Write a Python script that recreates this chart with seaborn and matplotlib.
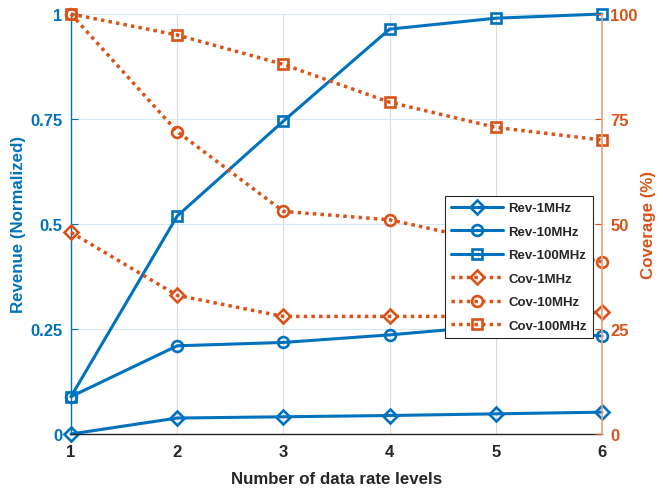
import matplotlib
matplotlib.use("Agg")
import matplotlib.pyplot as plt
import seaborn as sns
import numpy as np
import pandas as pd
from matplotlib.lines import Line2D

levels = [1, 2, 3, 4, 5, 6]

rev_1mhz = [0.0, 0.038, 0.041, 0.044, 0.048, 0.052]
rev_10mhz = [0.089, 0.21, 0.218, 0.236, 0.258, 0.233]
rev_100mhz = [0.089, 0.519, 0.745, 0.964, 0.99, 1.0]

cov_1mhz = [48, 33, 28, 28, 28, 29]
cov_10mhz = [100, 72, 53, 51, 45.5, 41]
cov_100mhz = [100, 95, 88, 79, 73, 70]

rev_names = ["Rev-1MHz", "Rev-10MHz", "Rev-100MHz"]
cov_names = ["Cov-1MHz", "Cov-10MHz", "Cov-100MHz"]
markers = ["D", "o", "s"]
marker_sizes = {"D": 6.8, "o": 7.8, "s": 7.5}

left_ticks = [0, 0.25, 0.5, 0.75, 1]
left_labels = ["0", "0.25", "0.5", "0.75", "1"]
right_ticks = [0, 25, 50, 75, 100]

BLUE = "#0072BD"
ORANGE = "#D95319"
DARK = "#262626"

sns.set_style("white")
plt.rcParams["font.family"] = ["Liberation Sans", "DejaVu Sans"]
plt.rcParams["font.weight"] = "bold"

fig = plt.figure(figsize=(6.67, 4.89), dpi=100)
ax = fig.add_axes([71 / 667, 1 - 435 / 489, (602 - 71) / 667, 420 / 489])
ax2 = ax.twinx()

rev_df = pd.DataFrame({"x": levels * 3,
                       "y": rev_1mhz + rev_10mhz + rev_100mhz,
                       "s": sum([[n] * 6 for n in rev_names], [])})
cov_df = pd.DataFrame({"x": levels * 3,
                       "y": cov_1mhz + cov_10mhz + cov_100mhz,
                       "s": sum([[n] * 6 for n in cov_names], [])})

DOTS = (0, (1, 1.2))

handles = []
for name, mk in zip(rev_names, markers):
    sub = rev_df[rev_df["s"] == name]
    style = dict(color=BLUE, lw=2.2, marker=mk, ms=marker_sizes[mk], mew=1.9,
                 mfc="none", mec=BLUE)
    sns.lineplot(data=sub, x="x", y="y", ax=ax, clip_on=False, legend=False, **style)
    handles.append(Line2D([], [], label=name, **style))
for name, mk in zip(cov_names, markers):
    sub = cov_df[cov_df["s"] == name]
    style = dict(color=ORANGE, lw=2.5, linestyle=DOTS, marker=mk,
                 ms=marker_sizes[mk], mew=1.9, mfc="none", mec=ORANGE)
    sns.lineplot(data=sub, x="x", y="y", ax=ax2, clip_on=False, legend=False, **style)
    handles.append(Line2D([], [], label=name, **style))

ax.set_xlim(1, 6)
ax.set_ylim(0, 1)
ax2.set_ylim(0, 100)
ax.set_xticks(levels)
ax.set_yticks(left_ticks)
ax.set_yticklabels(left_labels)
ax2.set_yticks(right_ticks)

# grid: vertical in gray, horizontal tinted with the left axis colour
for xv in levels:
    ax.axvline(xv, color="#dcdcdc", lw=0.8, zorder=0)
for yv in left_ticks:
    ax.axhline(yv, color="#d6e8f4", lw=0.8, zorder=0)

for sp in ["top"]:
    ax.spines[sp].set_visible(False)
    ax2.spines[sp].set_visible(False)
ax.spines["left"].set_color(BLUE)
ax.spines["right"].set_visible(False)
ax.spines["bottom"].set_color(DARK)
ax2.spines["right"].set_color("#E8A080")
ax2.spines["left"].set_visible(False)
ax2.spines["bottom"].set_visible(False)
for sp in ax.spines.values():
    sp.set_linewidth(1.0)
ax2.spines["right"].set_linewidth(1.2)

ax.tick_params(axis="x", direction="in", length=5, colors=DARK, labelsize=12, pad=7)
ax.tick_params(axis="y", direction="in", length=5, colors=BLUE, labelsize=12, pad=6)
ax2.tick_params(axis="y", direction="in", length=5, colors=ORANGE, labelsize=12, pad=6)
for lab in ax.get_xticklabels() + ax.get_yticklabels() + ax2.get_yticklabels():
    lab.set_fontweight("bold")

ax.set_xlabel("Number of data rate levels", fontsize=12.2, fontweight="bold", color=DARK, labelpad=9)
ax.set_ylabel("Revenue (Normalized)", fontsize=12.2, fontweight="bold", color=BLUE, labelpad=3)
ax2.set_ylabel("Coverage (%)", fontsize=12.2, fontweight="bold", color=ORANGE, labelpad=2)

leg = ax2.legend(handles=handles, loc="center", bbox_to_anchor=(0.843, 0.398),
                 frameon=True, fancybox=False, framealpha=1.0, handlelength=4.0,
                 borderpad=0.45, labelspacing=0.85, handletextpad=0.35,
                 borderaxespad=0, prop={"weight": "bold", "size": 9.5})
leg.get_frame().set_edgecolor(DARK)
leg.get_frame().set_linewidth(0.8)
leg.set_zorder(10)

fig.savefig("out.png", dpi=100)
